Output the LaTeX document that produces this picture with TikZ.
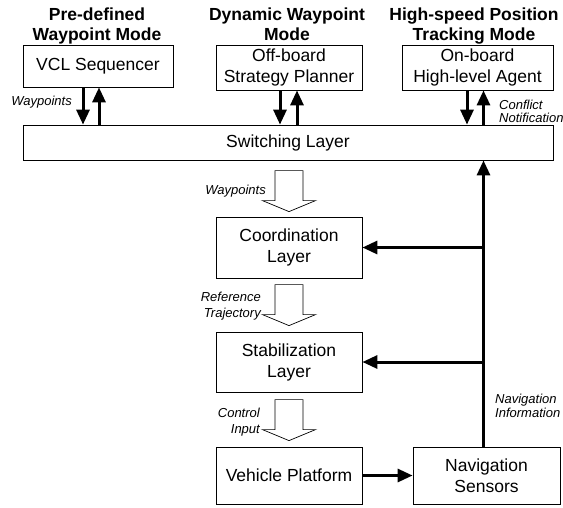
\documentclass[tikz,border=0pt]{standalone}
\usepackage{fontspec}
\setmainfont{Liberation Sans}
\usetikzlibrary{arrows.meta,calc}
\begin{document}
\begin{tikzpicture}[x=1pt,y=-1pt,
  box/.style={draw, line width=0.8pt, inner sep=0pt, align=center,
    font=\fontsize{17.5}{21}\selectfont},
  title/.style={font=\fontsize{17.5}{20}\selectfont\bfseries, inner sep=0pt, anchor=base},
  lbl/.style={font=\fontsize{13}{14.5}\selectfont\itshape, inner sep=0pt},
  thickarrow/.style={line width=3pt, -{Triangle[width=13pt,length=15pt]}},
  hollow/.style={draw, line width=0.7pt, fill=white, line join=miter},
  pics/hollowdown/.style={code={
    \draw[hollow] (0,0) -- (-26.5,-11) -- (-14,-11) -- (-14,-41)
      -- (14,-41) -- (14,-11) -- (26.5,-11) -- cycle;}}]
\useasboundingbox (0,0) rectangle (563,507);

% mode titles
\node[title] (t1a) at (97,20) {Pre-defined};
\node[title] (t1b) at (97,40) {Waypoint Mode};
\node[title] (t2a) at (287,20) {Dynamic Waypoint};
\node[title] (t2b) at (287,40) {Mode};
\node[title] (t3a) at (474,20) {High-speed Position};
\node[title] (t3b) at (474,40) {Tracking Mode};

% upper level sources
\node[box, minimum width=150pt, minimum height=42pt] (vcl) at (98,66) {VCL Sequencer};
\node[box, minimum width=146pt, minimum height=45pt] (off) at (289,67.5) {Off-board\\Strategy Planner};
\node[box, minimum width=151pt, minimum height=45pt] (on) at (477.5,67.5) {On-board\\High-level Agent};

% layers
\node[box, minimum width=530pt, minimum height=35pt] (sw) at (288,142.5) {Switching Layer};
\node[box, minimum width=146pt, minimum height=61pt] (coordl) at (289,247.5) {Coordination\\Layer};
\node[box, minimum width=146pt, minimum height=60pt] (stab) at (289,362) {Stabilization\\Layer};
\node[box, minimum width=146pt, minimum height=57pt] (veh) at (289,475.5) {Vehicle Platform};
\node[box, minimum width=147pt, minimum height=57pt] (nav) at (486.5,475.5) {Navigation\\Sensors};

% x positions of the short vertical arrows and the feedback bus
\coordinate (a1d) at (83,0);
\coordinate (a1u) at (99,0);
\coordinate (a2d) at (280,0);
\coordinate (a2u) at (297,0);
\coordinate (a3d) at (467,0);
\coordinate (bus) at (483.5,0);

\draw[thickarrow] (vcl.south -| a1d) -- (sw.north -| a1d);
\draw[thickarrow] (sw.north -| a1u) -- (vcl.south -| a1u);
\draw[thickarrow] (off.south -| a2d) -- (sw.north -| a2d);
\draw[thickarrow] (sw.north -| a2u) -- (off.south -| a2u);
\draw[thickarrow] (on.south -| a3d) -- (sw.north -| a3d);
\draw[thickarrow] (sw.north -| bus) -- (on.south -| bus);

% navigation feedback
\draw[thickarrow] (nav.north -| bus) -- (sw.south -| bus);
\draw[thickarrow] (bus |- coordl.east) -- (coordl.east);
\draw[thickarrow] (bus |- stab.east) -- (stab.east);
\draw[thickarrow] (veh.east) -- (nav.west);

% hollow data-flow arrows
\pic at ($(coordl.north)+(0,-5)$) {hollowdown};
\pic at ($(stab.north)+(0,-6)$) {hollowdown};
\pic at ($(veh.north)+(0,-6)$) {hollowdown};

% labels
\node[lbl, anchor=east] (l1) at (72,102) {Waypoints};
\node[lbl, anchor=west, align=left, font=\fontsize{13}{13}\selectfont\itshape] (l2) at (499,111.5) {Conflict\\Notification};
\node[lbl, anchor=east] (l3) at (266,191) {Waypoints};
\node[lbl, anchor=east, align=right, font=\fontsize{13}{16}\selectfont\itshape] (l4) at (261,306) {Reference\\Trajectory};
\node[lbl, anchor=east, align=right, font=\fontsize{13}{16}\selectfont\itshape] (l5) at (260,422) {Control\\Input};
\node[lbl, anchor=west, align=left, font=\fontsize{13}{14}\selectfont\itshape] (l6) at (495,406) {Navigation\\Information};
\end{tikzpicture}
\end{document}
